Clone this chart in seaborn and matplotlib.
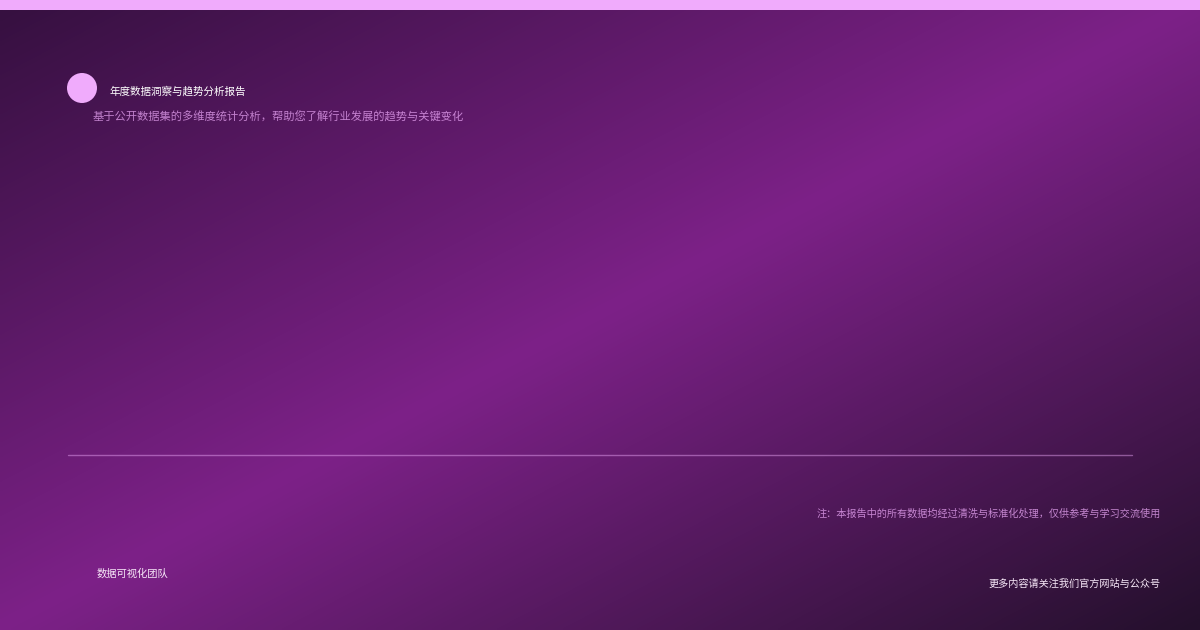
import numpy as np
import seaborn as sns
import matplotlib.pyplot as plt
from matplotlib.colors import LinearSegmentedColormap
from matplotlib.patches import Circle, Rectangle

# card texts
title = "年度数据洞察与趋势分析报告"
subtitle = "基于公开数据集的多维度统计分析，帮助您了解行业发展的趋势与关键变化"
footer_left = "数据可视化团队"
footer_note = "注：本报告中的所有数据均经过清洗与标准化处理，仅供参考与学习交流使用"
footer_link = "更多内容请关注我们官方网站与公众号"

# background gradient stops (top-left -> diagonal -> bottom-right)
bg_colors = ["#35103f", "#7d2188", "#24102c"]
accent = "#f0abfc"

W, H = 1200, 630

sns.set_theme(style="white")
plt.rcParams["font.family"] = ["Noto Sans CJK SC", "DejaVu Sans"]

fig = plt.figure(figsize=(12, 6.3), dpi=100)
ax = fig.add_axes([0, 0, 1, 1])
ax.set_xlim(0, W)
ax.set_ylim(H, 0)
ax.axis("off")

# diagonal gradient, bright band along the anti-diagonal
xx, yy = np.meshgrid(np.linspace(0, 1, 400), np.linspace(0, 1, 210))
t = (xx + yy) / 2
cmap = LinearSegmentedColormap.from_list("bg", bg_colors)
ax.imshow(t, cmap=cmap, extent=[0, W, H, 0], aspect="auto", zorder=0,
          interpolation="bilinear")

# top accent strip
ax.add_patch(Rectangle((0, 0), W, 10, color=accent, lw=0, zorder=2))

# icon + heading
ax.add_patch(Circle((82, 88), 15, color=accent, lw=0, zorder=3))
ax.text(110, 91, title, color="white", fontsize=7.6, fontweight="medium",
        va="center", ha="left", zorder=3)
ax.text(93, 117, subtitle, color=accent, alpha=0.72, fontsize=8.1,
        va="center", ha="left", zorder=3)

# divider
ax.plot([68, 1132], [455, 455], color=accent, alpha=0.45, lw=1, zorder=3)

# footer
ax.text(97, 574, footer_left, color="#f7e8f8", fontsize=7.4, va="center", ha="left", zorder=3)
ax.text(1161, 514, footer_note, color=accent, alpha=0.75, fontsize=7.3,
        va="center", ha="right", zorder=3)
ax.text(1161, 584, footer_link, color="#f7e8f8", fontsize=7.3, va="center", ha="right", zorder=3)

fig.savefig("out.png", dpi=100)
